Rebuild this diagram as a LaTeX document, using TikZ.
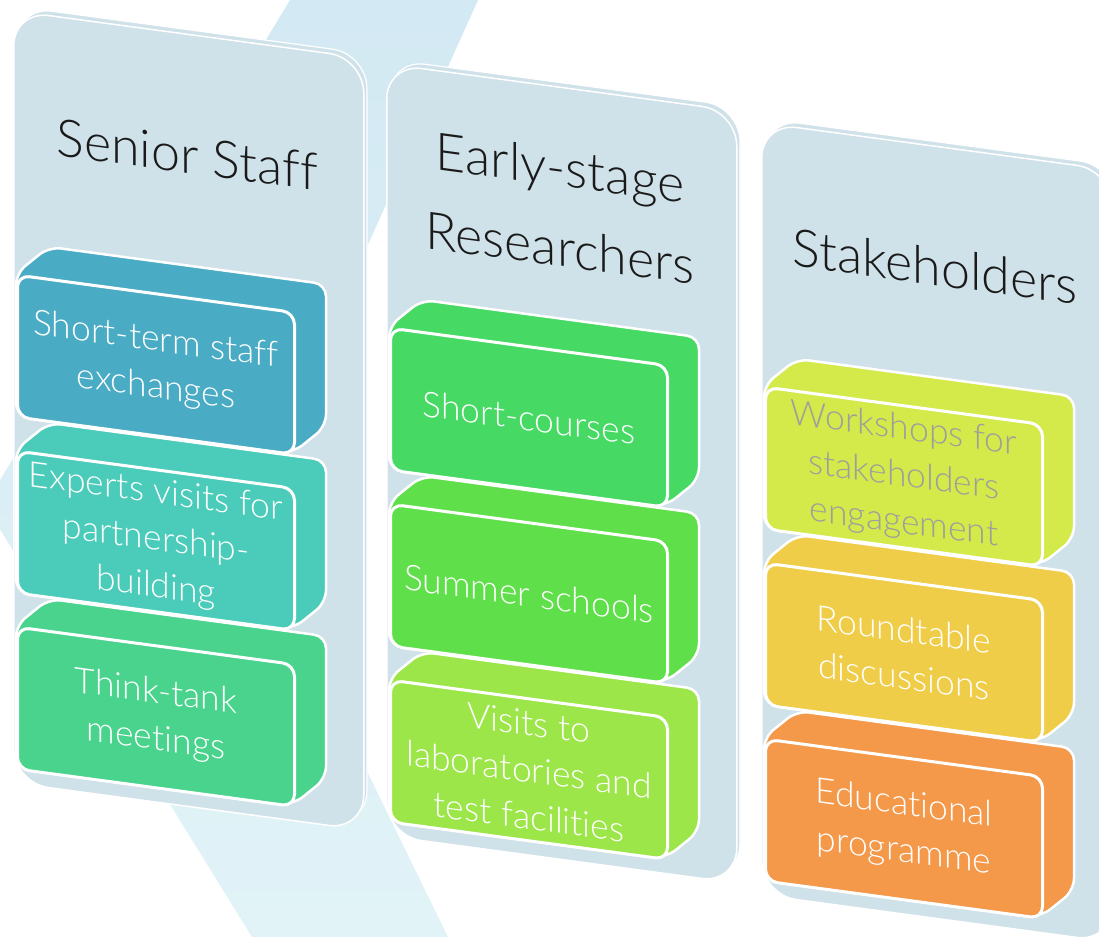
\documentclass[tikz,border=0pt]{standalone}
\usepackage{fontspec}
\IfFontExistsTF{Lato Light}{\setmainfont{Lato Light}[Ligatures=NoCommon]}{\setmainfont{Lato}[Ligatures=NoCommon]}
\definecolor{bandtop}{HTML}{D3E9F3}
\definecolor{bandbot}{HTML}{E1F3F7}
\definecolor{colfill}{HTML}{CFE1E9}
\definecolor{titlec}{HTML}{1A1A1A}
\definecolor{greytext}{HTML}{9E9E9E}
\definecolor{ca}{HTML}{4AABC4}
\definecolor{cb}{HTML}{4BCBB9}
\definecolor{cc}{HTML}{4AD38D}
\definecolor{cd}{HTML}{46D964}
\definecolor{ce}{HTML}{5FDF4A}
\definecolor{cf}{HTML}{9CE64A}
\definecolor{cg}{HTML}{D3EA4A}
\definecolor{ch}{HTML}{F0CD48}
\definecolor{ci}{HTML}{F4984A}
\tikzset{
  colnode/.style={draw=white, line width=1.5, fill=colfill, rounded corners=35,
    minimum width=350, minimum height=772, anchor=north west, inner sep=0, transform shape},
  colback/.style={draw=white, line width=1.2, fill=colfill, rounded corners=35},
  titlenode/.style={transform shape, align=center, text=titlec,
    font=\fontsize{52}{80}\selectfont, inner sep=0},
  face/.style={draw=white, line width=3, rounded corners=12, minimum width=277,
    minimum height=142, inner sep=0, align=center, transform shape,
    font=\fontsize{35.5}{47}\selectfont},
  hull/.style={draw=white, line width=2.5, rounded corners=12, line join=round},
}
\newcommand\drawblock[5]{%
  \path[hull, fill=#3] (3,#2) -- ++(33,-31) -- ++(277,0) -- ++(0,142) -- ++(-33,31) -- ++(-277,0) -- cycle;
  \node[face, fill=#3, text=#4, anchor=north west] (#1) at (3,#2) {#5};
}
\newcommand\drawcolumn[2]{%
  \path[colback] (4,-4) rectangle (354,768);
  \node[colnode] (#1) at (0,0) {};
  \node[titlenode] (#1t) at (174,121) {#2};
}
\begin{document}
\begin{tikzpicture}[x=1pt, y=-1pt]
\useasboundingbox (0,0) rectangle (1099,937);
\clip (0,0) rectangle (1099,937);
\fill[white] (0,0) rectangle (1099,937);
\shade[top color=bandtop, bottom color=bandbot]
  (290,0) -- (478,0) -- (244,520) -- (448,937) -- (252,937) -- (-15,505) -- cycle;

\begin{scope}[shift={(13,10)}, yslant=-0.135]
  \drawcolumn{senior}{Senior Staff}
  \drawblock{think}{615}{cc}{white}{Think-tank\\meetings}
  \drawblock{experts}{439}{cb}{white}{Experts visits for\\partnership-\\building}
  \drawblock{shortterm}{263}{ca}{white}{Short-term staff\\exchanges}
\end{scope}

\begin{scope}[shift={(386,63)}, yslant=-0.135]
  \drawcolumn{early}{Early-stage\\Researchers}
  \drawblock{visits}{615}{cf}{white}{Visits to\\laboratories and\\test facilities}
  \drawblock{summer}{439}{ce}{white}{Summer schools}
  \drawblock{courses}{263}{cd}{white}{Short-courses}
\end{scope}

\begin{scope}[shift={(761,122)}, yslant=-0.135]
  \drawcolumn{stake}{Stakeholders}
  \drawblock{edu}{615}{ci}{white}{Educational\\programme}
  \drawblock{round}{439}{ch}{white}{Roundtable\\discussions}
  \drawblock{workshops}{263}{cg}{greytext}{Workshops for\\stakeholders\\engagement}
\end{scope}
\end{tikzpicture}
\end{document}
